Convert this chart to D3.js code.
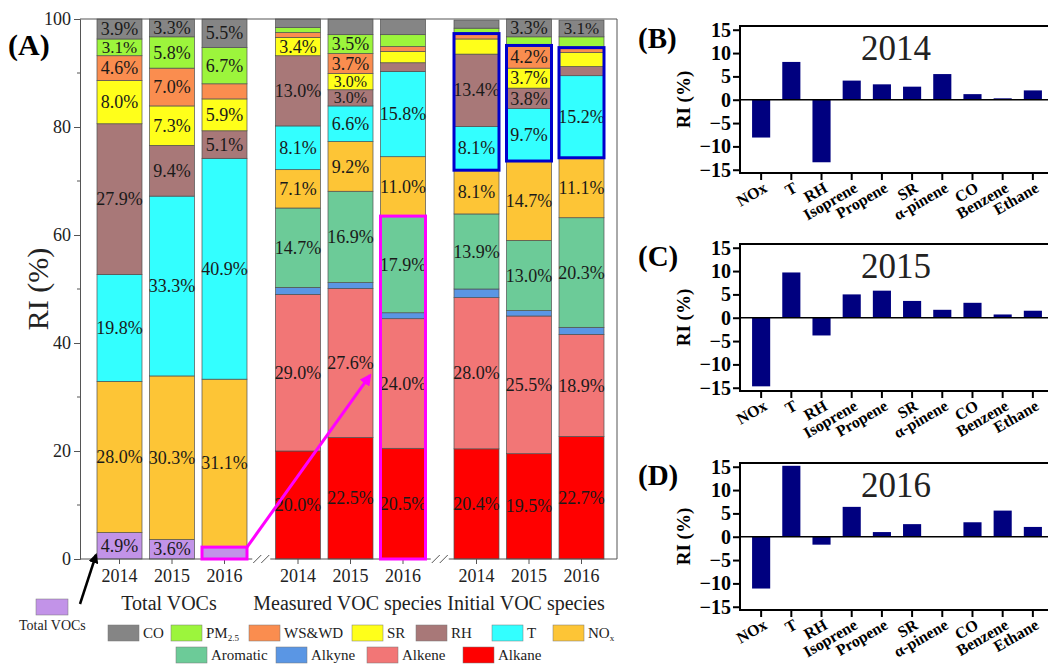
<!DOCTYPE html>
<html lang="en">
<head>
<meta charset="utf-8">
<title>Relative importance of VOCs and other factors</title>
<script src="https://d3js.org/d3.v7.min.js"></script>
<style>
  body { margin: 0; background: #fff; }
  svg { display: block; font-family: "Liberation Serif", "Times New Roman", serif; }
</style>
</head>
<body>
<script>
// ---- data ----
var years = ["2014", "2015", "2016"];
var groups = ["Total VOCs", "Measured VOC species", "Initial VOC species"];
// stack order, bottom to top
var layers = ["Total VOCs", "Alkane", "Alkene", "Alkyne", "Aromatic", "NOx", "T", "RH", "SR", "WS&WD", "PM2.5", "CO"];
var layerColors = ["#c293e8", "#ff0000", "#f27676", "#5a96e4", "#6ccb98", "#fdc536", "#33ffff", "#a87878", "#ffff1a", "#fa8d4f", "#9cf53c", "#858585"];

// one row per year, values in layer order (RI, %)
var totalVocRI = [
  [4.9, 0, 0, 0, 0, 28.0, 19.8, 27.9, 8.0, 4.6, 3.1, 3.9],
  [3.6, 0, 0, 0, 0, 30.3, 33.3, 9.4, 7.3, 7.0, 5.8, 3.3],
  [2.2, 0, 0, 0, 0, 31.1, 40.9, 5.1, 5.9, 2.8, 6.7, 5.5]
];
var measuredRI = [
  [0, 20.0, 29.0, 1.3, 14.7, 7.1, 8.1, 13.0, 3.4, 0.9, 0.9, 1.6],
  [0, 22.5, 27.6, 1.1, 16.9, 9.2, 6.6, 3.0, 3.0, 3.7, 3.5, 2.9],
  [0, 20.5, 24.0, 1.1, 17.9, 11.0, 15.8, 1.6, 2.1, 0.9, 2.2, 2.8]
];
var initialRI = [
  [0, 20.4, 28.0, 1.6, 13.9, 8.1, 8.1, 13.4, 2.8, 1.0, 1.0, 1.5],
  [0, 19.5, 25.5, 1.0, 13.0, 14.7, 9.7, 3.8, 3.7, 4.2, 1.6, 3.3],
  [0, 22.7, 18.9, 1.3, 20.3, 11.1, 15.2, 1.7, 2.6, 0.9, 2.0, 3.1]
];

var factors = ["NOx", "T", "RH", "Isoprene", "Propene", "SR", "\u03b1-pinene", "CO", "Benzene", "Ethane"];
var ri2014 = [-8.1, 8.1, -13.4, 4.1, 3.3, 2.8, 5.5, 1.2, 0.3, 2.0];
var ri2015 = [-14.7, 9.7, -3.8, 5.0, 5.8, 3.6, 1.7, 3.2, 0.7, 1.5];
var ri2016 = [-11.1, 15.2, -1.7, 6.4, 1.0, 2.7, 0.0, 3.1, 5.6, 2.1];

var legendRow1 = ["CO", "PM2.5", "WS&WD", "SR", "RH", "T", "NOx"];
var legendRow2 = ["Aromatic", "Alkyne", "Alkene", "Alkane"];

// ---- svg ----
var W = 1048, H = 664;
var svg = d3.select("body").append("svg").attr("width", W).attr("height", H);

var defs = svg.append("defs");
function marker(id, col) {
  defs.append("marker").attr("id", id)
    .attr("viewBox", "0 0 10 10").attr("refX", 8).attr("refY", 5)
    .attr("markerWidth", 4).attr("markerHeight", 4).attr("orient", "auto")
    .append("path").attr("d", "M0,0L10,5L0,10z").attr("fill", col);
}
marker("headPink", "#ff00ff");
marker("headBlack", "#000");

// ---- panel A ----
var aLeft = 80, aRight = 617, aTop = 19, aBottom = 559;
var y = d3.scaleLinear().domain([0, 100]).range([aBottom, aTop]);
var x = d3.scaleLinear().domain([0, 1]).range([119.5, 172]);
var bw = 45;
var groupGap = 3.4;

var bars = [];
[totalVocRI, measuredRI, initialRI].forEach(function(rows, g) {
  rows.forEach(function(vals, i) {
    var acc = 0;
    var segs = vals.map(function(v, k) {
      var s = { layer: k, v: v, y0: acc, y1: acc + v };
      acc += v;
      return s;
    });
    bars.push({ group: g, year: i, pos: g * groupGap + i, segs: segs });
  });
});

var bar = svg.append("g").selectAll("g").data(bars).enter().append("g")
  .attr("transform", function(d) { return "translate(" + (x(d.pos) - bw / 2) + ",0)"; });

bar.selectAll("rect").data(function(d) { return d.segs.filter(function(s) { return s.v > 0; }); })
  .enter().append("rect")
  .attr("x", 0).attr("width", bw)
  .attr("y", function(s) { return y(Math.min(s.y1, 100)); })
  .attr("height", function(s) { return y(s.y0) - y(Math.min(s.y1, 100)); })
  .attr("fill", function(s) { return layerColors[s.layer]; })
  .attr("stroke", "#505050").attr("stroke-width", 0.7);

// small segments get a slightly smaller label so neighbours don't collide
function labelSize(s) { return Math.min(18, Math.round(y(s.y0) - y(s.y1))); }
bar.selectAll("text").data(function(d) { return d.segs.filter(function(s) { return s.v >= 3; }); })
  .enter().append("text")
  .attr("x", bw / 2)
  .attr("y", function(s) { return y((s.y0 + s.y1) / 2) + labelSize(s) * 0.34; })
  .attr("text-anchor", "middle")
  .attr("font-size", labelSize).attr("fill", "#1a1a1a")
  .text(function(s) { return s.v.toFixed(1) + "%"; });

// frame
svg.append("path")
  .attr("d", "M" + aLeft + "," + aTop + "H" + aRight + "V" + aBottom)
  .attr("fill", "none").attr("stroke", "#555").attr("stroke-width", 1);

var yAxis = svg.append("g").attr("transform", "translate(" + aLeft + ",0)")
  .call(d3.axisLeft(y).tickValues([0, 20, 40, 60, 80, 100]).tickSize(6).tickPadding(3));
yAxis.selectAll("text").attr("font-size", 18).attr("font-family", "Liberation Serif").attr("fill", "#222");
yAxis.selectAll("line, path").attr("stroke", "#555");
svg.append("g").attr("transform", "translate(" + aLeft + ",0)")
  .selectAll("line").data([10, 30, 50, 70, 90]).enter().append("line")
  .attr("x1", -3).attr("x2", 0).attr("y1", y).attr("y2", y).attr("stroke", "#555");

// bottom axis with breaks
svg.append("line").attr("x1", aLeft).attr("x2", aRight).attr("y1", aBottom).attr("y2", aBottom)
  .attr("stroke", "#555");
var tickG = svg.append("g").selectAll("g").data(bars).enter().append("g")
  .attr("transform", function(d) { return "translate(" + x(d.pos) + "," + aBottom + ")"; });
tickG.append("line").attr("y2", 5).attr("stroke", "#555");
tickG.append("text").attr("y", 23).attr("text-anchor", "middle").attr("font-size", 18)
  .attr("fill", "#222").text(function(d) { return years[d.year]; });

[0, 1].forEach(function(g) {
  var cx = (x(g * groupGap + 2) + x((g + 1) * groupGap)) / 2;
  svg.append("rect").attr("x", cx - 9).attr("y", aBottom - 3).attr("width", 18).attr("height", 6).attr("fill", "#fff");
  [-4, 4].forEach(function(dx) {
    svg.append("line").attr("x1", cx + dx - 4).attr("y1", aBottom + 4).attr("x2", cx + dx + 4).attr("y2", aBottom - 4)
      .attr("stroke", "#555").attr("stroke-width", 1);
  });
});

groups.forEach(function(name, g) {
  svg.append("text").attr("x", x(g * groupGap + 1) - 3).attr("y", 610)
    .attr("text-anchor", "middle").attr("font-size", 20).attr("fill", "#222").text(name);
});

svg.append("text").attr("transform", "translate(48," + y(50) + ") rotate(-90)")
  .attr("text-anchor", "middle").attr("font-size", 30).attr("fill", "#222").text("RI (%)");
svg.append("text").attr("x", 8).attr("y", 55).attr("font-size", 30).attr("font-weight", "bold").text("(A)");

// highlight boxes
function boxAround(b, l0, l1, col) {
  var s0 = b.segs[l0], s1 = b.segs[l1];
  svg.append("rect")
    .attr("x", x(b.pos) - bw / 2).attr("width", bw)
    .attr("y", y(s1.y1)).attr("height", y(s0.y0) - y(s1.y1))
    .attr("fill", "none").attr("stroke", col).attr("stroke-width", 3);
}
boxAround(bars[2], 0, 0, "#ff00ff");
boxAround(bars[5], 1, 4, "#ff00ff");
boxAround(bars[6], 6, 9, "#0000cc");
boxAround(bars[7], 6, 9, "#0000cc");
boxAround(bars[8], 6, 9, "#0000cc");

// pink arrow
svg.append("line")
  .attr("x1", x(bars[2].pos) + bw / 2).attr("y1", y(bars[2].segs[0].y1))
  .attr("x2", x(bars[4].pos) + bw / 2 - 3).attr("y2", y(34))
  .attr("stroke", "#ff00ff").attr("stroke-width", 3).attr("marker-end", "url(#headPink)");

// total VOC legend + arrow
svg.append("rect").attr("x", 36).attr("y", 599).attr("width", 32).attr("height", 16)
  .attr("fill", layerColors[0]).attr("stroke", "#777").attr("stroke-width", 0.5);
svg.append("text").attr("x", 19).attr("y", 630).attr("font-size", 14).attr("fill", "#222").text("Total VOCs");
svg.append("line").attr("x1", 80).attr("y1", 604)
  .attr("x2", x(0) - bw / 2 - 1).attr("y2", aBottom - 4)
  .attr("stroke", "#000").attr("stroke-width", 2.5).attr("marker-end", "url(#headBlack)");

// legend
function legendRow(names, xs, yTop) {
  names.forEach(function(n, i) {
    var k = layers.indexOf(n);
    svg.append("rect").attr("x", xs[i]).attr("y", yTop).attr("width", 31).attr("height", 16)
      .attr("fill", layerColors[k]).attr("stroke", "#777").attr("stroke-width", 0.5);
    var t = svg.append("text").attr("x", xs[i] + 35).attr("y", yTop + 13).attr("font-size", 15).attr("fill", "#222");
    if (n === "PM2.5") { t.text("PM"); t.append("tspan").attr("font-size", 9).attr("dy", 3).text("2.5"); }
    else if (n === "NOx") { t.text("NO"); t.append("tspan").attr("font-size", 9).attr("dy", 3).text("x"); }
    else t.text(n);
  });
}
legendRow(legendRow1, [108, 171, 249, 352, 416, 492, 553], 625);
legendRow(legendRow2, [176, 276, 367, 463], 647);

// ---- panels B, C, D ----
var panels = [
  { label: "(B)", year: "2014", vals: ri2014, top: 26 },
  { label: "(C)", year: "2015", vals: ri2015, top: 244 },
  { label: "(D)", year: "2016", vals: ri2016, top: 463 }
];
var px = d3.scaleBand().domain(factors).range([740, 740 + 31.4 * factors.length]).padding(0.4);

panels.forEach(function(p) {
  var h = 147;
  var py = d3.scaleLinear().domain([-15.7, 15.8]).range([p.top + h, p.top]);
  var g = svg.append("g");

  g.selectAll("rect").data(p.vals).enter().append("rect")
    .attr("x", function(d, i) { return px(factors[i]); })
    .attr("width", px.bandwidth())
    .attr("y", function(d) { return py(Math.max(0, d)); })
    .attr("height", function(d) { return Math.abs(py(d) - py(0)); })
    .attr("fill", "#00007f");

  g.append("line").attr("x1", 740).attr("x2", W).attr("y1", py(0)).attr("y2", py(0))
    .attr("stroke", "#000").attr("stroke-width", 1.5);
  g.append("path").attr("d", "M" + W + "," + p.top + "H740V" + (p.top + h) + "H" + W)
    .attr("fill", "none").attr("stroke", "#000").attr("stroke-width", 2);

  var ya = g.append("g").attr("transform", "translate(740,0)")
    .call(d3.axisLeft(py).tickValues([-15, -10, -5, 0, 5, 10, 15]).tickSize(7).tickPadding(2));
  ya.select(".domain").remove();
  ya.selectAll("line").attr("stroke-width", 2);
  ya.selectAll("text").attr("font-size", 20).attr("font-weight", "bold")
    .attr("font-family", "Liberation Serif").attr("fill", "#000");

  var xa = g.append("g").attr("transform", "translate(0," + (p.top + h) + ")");
  factors.forEach(function(f) {
    var cx = px(f) + px.bandwidth() / 2;
    xa.append("line").attr("x1", cx).attr("x2", cx).attr("y1", 0).attr("y2", 7)
      .attr("stroke", "#000").attr("stroke-width", 2);
    xa.append("text").attr("transform", "translate(" + (cx + 7) + ",18) rotate(-30)")
      .attr("text-anchor", "end").attr("font-size", 16).attr("font-weight", "bold").text(f);
  });

  g.append("text").attr("transform", "translate(690," + (p.top + h / 2) + ") rotate(-90)")
    .attr("text-anchor", "middle").attr("font-size", 19).attr("font-weight", "bold").text("RI (%)");
  g.append("text").attr("x", 638).attr("y", p.top + 22).attr("font-size", 29)
    .attr("font-weight", "bold").text(p.label);
  g.append("text").attr("x", 896).attr("y", p.top + 34).attr("text-anchor", "middle")
    .attr("font-size", 35).attr("fill", "#222").text(p.year);
});
</script>
</body>
</html>
